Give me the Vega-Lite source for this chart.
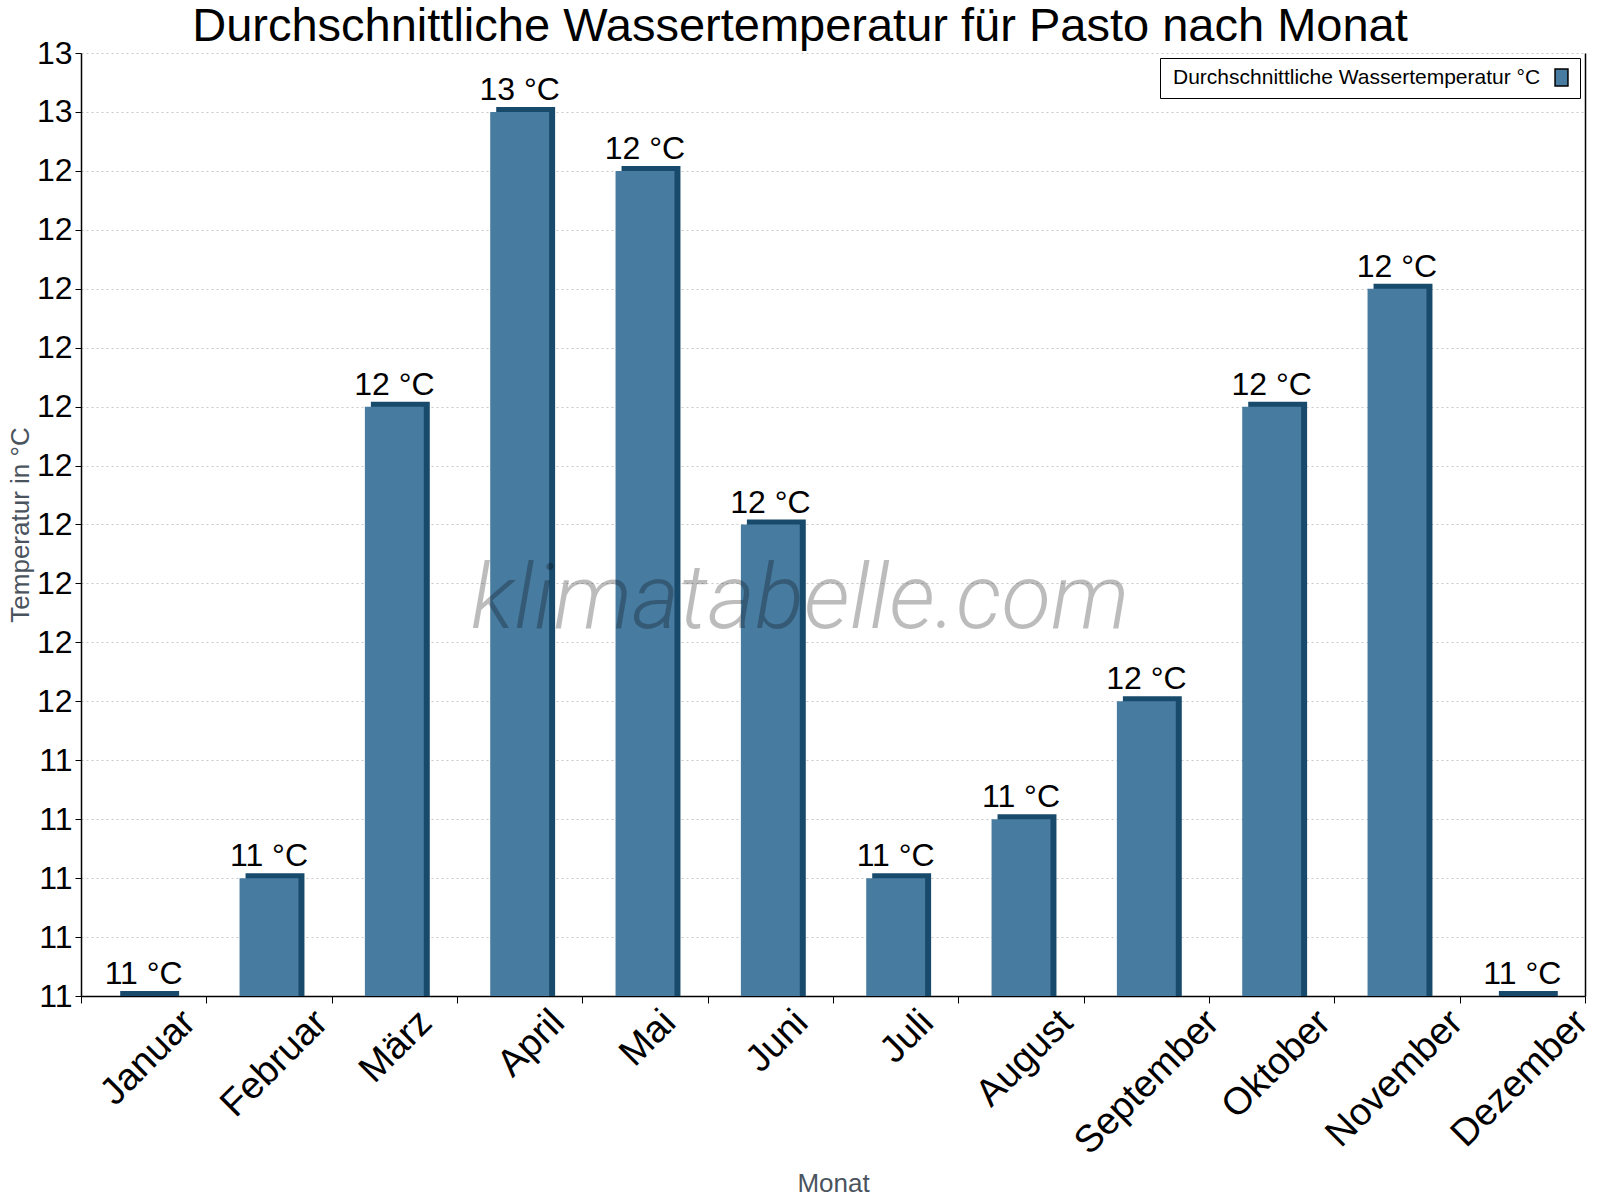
{
  "$schema": "https://vega.github.io/schema/vega-lite/v6.json",
  "width": 1504,
  "height": 943,
  "autosize": {"type": "none"},
  "padding": {"left": 81, "top": 53, "right": 15, "bottom": 204},
  "background": "white",
  "title": {
    "text": "Durchschnittliche Wassertemperatur für Pasto nach Monat",
    "font": "Liberation Sans",
    "fontSize": 47,
    "fontWeight": "normal",
    "color": "black",
    "anchor": "middle",
    "baseline": "alphabetic",
    "offset": -51,
    "dx": -33
  },
  "data": {
    "values": [
      {"Monat": "Januar", "Temp": 11.0, "Label": "11 °C", "Serie": "Durchschnittliche Wassertemperatur °C"},
      {"Monat": "Februar", "Temp": 11.2, "Label": "11 °C", "Serie": "Durchschnittliche Wassertemperatur °C"},
      {"Monat": "März", "Temp": 12.0, "Label": "12 °C", "Serie": "Durchschnittliche Wassertemperatur °C"},
      {"Monat": "April", "Temp": 12.5, "Label": "13 °C", "Serie": "Durchschnittliche Wassertemperatur °C"},
      {"Monat": "Mai", "Temp": 12.4, "Label": "12 °C", "Serie": "Durchschnittliche Wassertemperatur °C"},
      {"Monat": "Juni", "Temp": 11.8, "Label": "12 °C", "Serie": "Durchschnittliche Wassertemperatur °C"},
      {"Monat": "Juli", "Temp": 11.2, "Label": "11 °C", "Serie": "Durchschnittliche Wassertemperatur °C"},
      {"Monat": "August", "Temp": 11.3, "Label": "11 °C", "Serie": "Durchschnittliche Wassertemperatur °C"},
      {"Monat": "September", "Temp": 11.5, "Label": "12 °C", "Serie": "Durchschnittliche Wassertemperatur °C"},
      {"Monat": "Oktober", "Temp": 12.0, "Label": "12 °C", "Serie": "Durchschnittliche Wassertemperatur °C"},
      {"Monat": "November", "Temp": 12.2, "Label": "12 °C", "Serie": "Durchschnittliche Wassertemperatur °C"},
      {"Monat": "Dezember", "Temp": 11.0, "Label": "11 °C", "Serie": "Durchschnittliche Wassertemperatur °C"}
    ]
  },
  "encoding": {
    "x": {
      "field": "Monat",
      "type": "nominal",
      "sort": null,
      "scale": {"paddingInner": 0, "paddingOuter": 0},
      "axis": {
        "title": "Monat",
        "titleFont": "Liberation Sans",
        "titleFontSize": 26,
        "titleFontWeight": "normal",
        "titleColor": "#4a545e",
        "titlePadding": 9,
        "labelFont": "Liberation Sans",
        "labelFontSize": 38,
        "labelColor": "black",
        "labelLimit": 0,
        "labelAngle": -45,
        "labelAlign": "right",
        "labelBaseline": "top",
        "labelOffset": {"expr": "7*length(datum.label) - 10"},
        "labelPadding": 0,
        "tickBand": "extent",
        "tickSize": 7,
        "tickColor": "black",
        "domainColor": "black",
        "domainWidth": 1.5,
        "grid": false
      }
    }
  },
  "layer": [
    {
      "mark": {"type": "bar", "color": "#184a6b", "width": {"band": 0.47}, "xOffset": 6, "yOffset": -5},
      "encoding": {
        "y": {
          "field": "Temp",
          "type": "quantitative",
          "scale": {"domain": [11, 12.6], "zero": false, "nice": false},
          "axis": {
            "orient": "left",
            "title": "Temperatur in °C",
            "titleFont": "Liberation Sans",
            "titleFontSize": 26,
            "titleFontWeight": "normal",
            "titleColor": "#4a545e",
            "titlePadding": 3,
            "values": [11, 11.1, 11.2, 11.3, 11.4, 11.5, 11.6, 11.7, 11.8, 11.9, 12, 12.1, 12.2, 12.3, 12.4, 12.5, 12.6],
            "format": ".0f",
            "labelFont": "Liberation Sans",
            "labelFontSize": 32,
            "labelColor": "black",
            "labelPadding": 3,
            "tickSize": 6,
            "tickColor": "black",
            "domainColor": "black",
            "domainWidth": 1.5,
            "grid": true,
            "gridColor": "#c8c8c8",
            "gridDash": [2, 3],
            "gridWidth": 1
          }
        },
        "y2": {"datum": 11}
      }
    },
    {
      "mark": {"type": "bar", "width": {"band": 0.47}},
      "encoding": {
        "y": {
          "field": "Temp",
          "type": "quantitative",
          "axis": {
            "orient": "right",
            "title": null,
            "labels": false,
            "ticks": false,
            "grid": false,
            "domainColor": "black",
            "domainWidth": 1.5
          }
        },
        "y2": {"datum": 11},
        "color": {
          "field": "Serie",
          "type": "nominal",
          "scale": {"range": ["#477ba0"]},
          "legend": {
            "title": null,
            "orient": "top-right",
            "offset": 5,
            "strokeColor": "black",
            "fillColor": "white",
            "padding": 9,
            "labelFont": "Liberation Sans",
            "labelFontSize": 21,
            "labelColor": "black",
            "labelLimit": 0,
            "labelAlign": "left",
            "labelOffset": -399,
            "symbolOffset": 382,
            "symbolType": "M-0.76,-1H0.76V1H-0.76Z",
            "symbolSize": 289,
            "symbolStrokeColor": "black",
            "symbolStrokeWidth": 1.5,
            "symbolOpacity": 1
          }
        }
      }
    },
    {
      "data": {"values": [{"Wasserzeichen": "klimatabelle.com"}]},
      "mark": {
        "type": "text",
        "x": {"expr": "width/2 - 33"},
        "y": {"expr": "height*0.61"},
        "align": "center",
        "baseline": "alphabetic",
        "font": "Roboto",
        "fontWeight": 300,
        "fontStyle": "italic",
        "fontSize": 91,
        "color": "black",
        "opacity": 0.26
      },
      "encoding": {
        "x": null,
        "text": {"field": "Wasserzeichen"}
      }
    },
    {
      "mark": {
        "type": "text",
        "baseline": "alphabetic",
        "dy": -12,
        "font": "Liberation Sans",
        "fontSize": 32,
        "color": "black"
      },
      "encoding": {
        "y": {"field": "Temp", "type": "quantitative", "axis": null},
        "text": {"field": "Label"}
      }
    }
  ],
  "resolve": {"axis": {"y": "independent"}},
  "config": {
    "view": {"stroke": null}
  }
}
